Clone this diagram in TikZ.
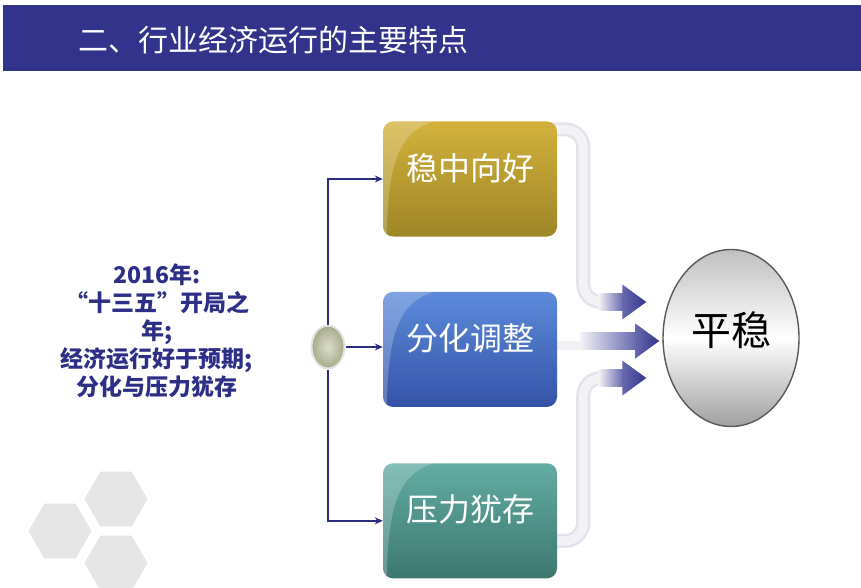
\documentclass[tikz,border=0pt]{standalone}
\usepackage{fontspec}
\setmainfont{Noto Sans CJK SC}
\usetikzlibrary{positioning,calc,arrows.meta,shapes.geometric,backgrounds}

\definecolor{titleblue}{HTML}{32338A}
\definecolor{textnavy}{HTML}{2D2F86}
\definecolor{linknavy}{HTML}{2B2D80}
\definecolor{goldtop}{HTML}{D2B23C}
\definecolor{goldbot}{HTML}{9E8628}
\definecolor{bluetop}{HTML}{5C8BDA}
\definecolor{bluebot}{HTML}{3553A6}
\definecolor{tealtop}{HTML}{62ACA3}
\definecolor{tealbot}{HTML}{3D7870}
\definecolor{bandlight}{HTML}{F3F3F7}
\definecolor{bandedge}{HTML}{E3E3EB}
\definecolor{arrowlight}{HTML}{6668AE}
\definecolor{arrownavy}{HTML}{34368C}
\definecolor{hubfill}{HTML}{C4C8A2}
\definecolor{hexgray}{HTML}{E6E6E6}

\tikzstyle{box}  = [rectangle, rounded corners=10pt, minimum width=174pt, minimum height=115pt,
                    inner sep=0pt, text=white, font=\fontsize{32}{32}\selectfont,
                    text height=28pt, text depth=26pt]
\tikzstyle{link} = [draw=linknavy, line width=1.8pt, -{Stealth[length=8pt,width=7pt]}]
\tikzstyle{band} = [draw=bandedge, line width=14pt, rounded corners=18pt]
\tikzstyle{bandcore} = [draw=bandlight, line width=9pt, rounded corners=18pt]

\newcommand{\boxgloss}[1]{%
  \begin{scope}
    \clip[rounded corners=10pt] (#1.south west) rectangle (#1.north east);
    \fill[white, opacity=.22] (#1.north west) -- ([xshift=52pt]#1.north west)
      .. controls ([xshift=14pt,yshift=-10pt]#1.north west) and ([xshift=5pt,yshift=10pt]#1.west)
      .. ([xshift=4pt]#1.south west) -- (#1.south west) -- cycle;
  \end{scope}}

\begin{document}
\begin{tikzpicture}[x=1pt, y=-1pt,
    titlebar/.style={rectangle, fill=titleblue, minimum width=858pt, minimum height=66pt, inner sep=0pt},
    hexagon/.style={regular polygon, regular polygon sides=6, minimum size=63pt, inner sep=0pt, fill=hexgray},
    hub/.style={ellipse, minimum width=33pt, minimum height=43pt, inner sep=0pt,
                draw=white!80!gray, line width=2pt, inner color=hubfill!60!white, outer color=hubfill!85!black},
    goal/.style={ellipse, minimum width=136pt, minimum height=177pt, inner sep=0pt,
                 draw=gray!70!black, line width=1.4pt, top color=gray!50, bottom color=gray!75, middle color=white,
                 font=\fontsize{40}{40}\selectfont, text height=36pt, text depth=22pt}
  ]
  \useasboundingbox (0,0) rectangle (861,588);

  \node[titlebar] (bar) at (432,38) {};
  \node[anchor=base west, inner sep=0pt, text=white, font=\fontsize{30}{30}\selectfont] (title)
    at (78,51.5) {二、行业经济运行的主要特点};

  \foreach \name/\x/\y in {hexA/116/499, hexB/60/531, hexC/116/563}
    \node[hexagon] (\name) at (\x,\y) {};

  \node[align=center, inner sep=0pt, text=textnavy, font=\bfseries\fontsize{23}{28}\selectfont] (intro)
    at (157,331) {2016年:\\“十三五”开局之\\年;\\经济运行好于预期;\\分化与压力犹存};

  \node[box, top color=goldtop, bottom color=goldbot] (up) at (470,179) {稳中向好};
  \node[box, top color=bluetop, bottom color=bluebot, below=55pt of up] (mid) {分化调整};
  \node[box, top color=tealtop, bottom color=tealbot, below=56pt of mid] (low) {压力犹存};
  \boxgloss{up}
  \boxgloss{mid}
  \boxgloss{low}

  \node[hub] (hub) at (328,347) {};
  \node[goal] (goal) at (731,338) {平稳};

  \draw[link] (hub) |- (up);
  \draw[link] (hub) |- (low);
  \draw[link] (hub.east) -- (mid.west |- hub.east);

  \begin{scope}[on background layer]
    \coordinate (tipA) at ($(goal.west)+(-16,-36)$);
    \coordinate (tipB) at ($(goal.west)+(-3,3)$);
    \coordinate (tipC) at ($(goal.west)+(-16,40)$);

    \draw[band] ([xshift=-6pt,yshift=-8pt]up.north east) -- ++(32,0) |- ([xshift=-23pt]tipA);
    \draw[bandcore] ([xshift=-6pt,yshift=-8pt]up.north east) -- ++(32,0) |- ([xshift=-23pt]tipA);
    \shade[left color=bandlight, right color=arrowlight] ($(tipA)+(-48,-8.5)$) rectangle ($(tipA)+(-23,8.5)$);
    \shade[left color=arrowlight, right color=arrownavy] ($(tipA)+(-24,-17.5)$) -- (tipA) -- ($(tipA)+(-24,17.5)$) -- cycle;

    \fill[bandlight] ($(mid.east)+(-6,-8.5)$) rectangle ($(tipB)+(-78,8.5)$);
    \shade[left color=bandlight, right color=arrowlight] ($(tipB)+(-79,-8.5)$) rectangle ($(tipB)+(-23,8.5)$);
    \shade[left color=arrowlight, right color=arrownavy] ($(tipB)+(-24,-17.5)$) -- (tipB) -- ($(tipB)+(-24,17.5)$) -- cycle;

    \draw[band] ([xshift=-6pt,yshift=-20pt]low.east) -- ++(32,0) |- ([xshift=-23pt]tipC);
    \draw[bandcore] ([xshift=-6pt,yshift=-20pt]low.east) -- ++(32,0) |- ([xshift=-23pt]tipC);
    \shade[left color=bandlight, right color=arrowlight] ($(tipC)+(-48,-8.5)$) rectangle ($(tipC)+(-23,8.5)$);
    \shade[left color=arrowlight, right color=arrownavy] ($(tipC)+(-24,-17.5)$) -- (tipC) -- ($(tipC)+(-24,17.5)$) -- cycle;
  \end{scope}
\end{tikzpicture}
\end{document}
